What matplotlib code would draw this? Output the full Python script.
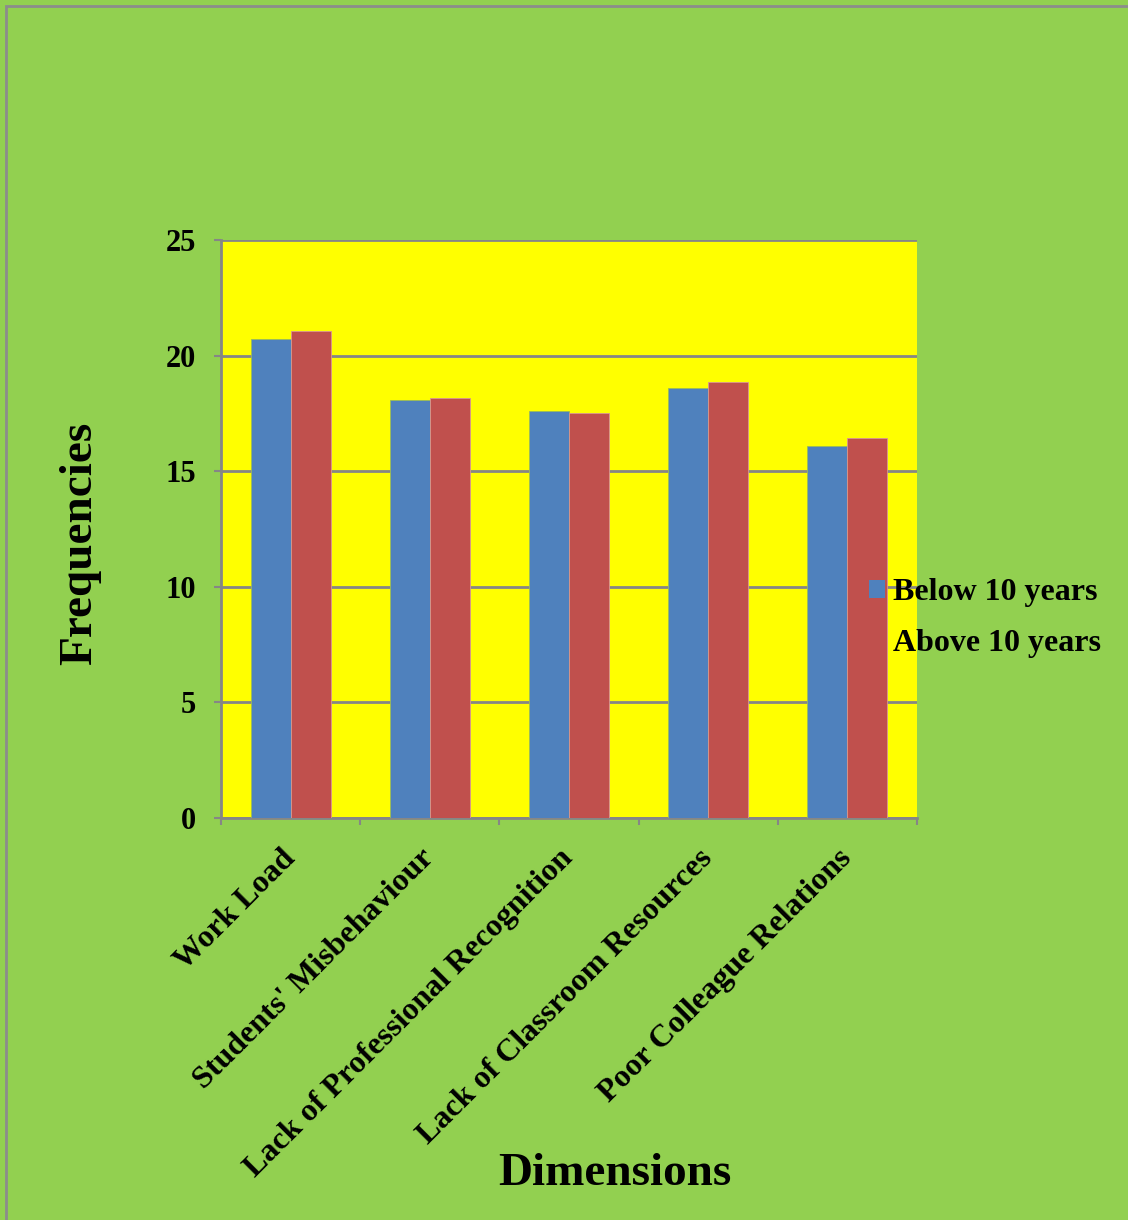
import numpy as np
import matplotlib.pyplot as plt
from matplotlib.patches import Rectangle

categories = ["Work Load", "Students' Misbehaviour", "Lack of Professional Recognition",
              "Lack of Classroom Resources", "Poor Colleague Relations"]
below_10 = [20.7, 18.1, 17.6, 18.6, 16.1]
above_10 = [21.05, 18.15, 17.5, 18.85, 16.45]
series_names = ["Below 10 years", "Above 10 years"]

plt.rcParams['font.family'] = ['Liberation Serif', 'DejaVu Serif']
plt.rcParams['font.weight'] = 'bold'

fig = plt.figure(figsize=(11.28, 12.2), dpi=100)
fig.patch.set_facecolor('#92d050')
# thin grey frame around the chart area
fig.patches.append(Rectangle((6 / 1128, -0.01), 1.02, 1 - 6 / 1220 + 0.01,
                             transform=fig.transFigure, fill=False,
                             edgecolor='#8c8c8c', linewidth=2))

ax = fig.add_axes([221 / 1128, 1 - 818 / 1220, 696 / 1128, 578 / 1220])
ax.set_facecolor('#ffff00')

x = np.arange(len(categories)) + 0.5
w = 0.288
ax.bar(x - w / 2, below_10, w, color='#4f81bd', edgecolor='#9bbb59', linewidth=0.6,
       label=series_names[0], zorder=3)
ax.bar(x + w / 2, above_10, w, color='#c0504d', edgecolor='#d99694', linewidth=0.6,
       label=series_names[1], zorder=3)

ax.set_xlim(0, len(categories))
ax.set_ylim(0, 25)
ax.set_yticks(range(0, 26, 5))
ax.yaxis.grid(True, color='#868686', linewidth=2)
ax.set_axisbelow(True)

ax.set_xticks(np.arange(len(categories) + 1))
ax.set_xticklabels([])
for xi, name in zip(x, categories):
    ax.text(xi, -1.55, name, rotation=45, rotation_mode='anchor', ha='right', va='center',
            fontsize=23, fontweight='bold')

for side in ['top', 'right']:
    ax.spines[side].set_visible(False)
for side in ['left', 'bottom']:
    ax.spines[side].set_color('#868686')
    ax.spines[side].set_linewidth(2)
ax.tick_params(axis='both', color='#868686', width=1.5, length=5)
ax.tick_params(axis='y', labelsize=22, pad=13)

fig.text(80 / 1128, 1 - 543 / 1220, 'Frequencies', rotation=90, ha='center', va='center',
         fontsize=34, fontweight='bold')
fig.text(615 / 1128, 1 - 1174 / 1220, 'Dimensions', ha='center', va='center',
         fontsize=34, fontweight='bold')

leg = fig.legend(loc='upper left', bbox_to_anchor=(869 / 1128, 1 - 578 / 1220),
                 frameon=False, fontsize=23, handlelength=0.5, handleheight=0.5,
                 handletextpad=0.25, labelspacing=0.68, borderpad=0, borderaxespad=0)
for h in leg.legend_handles:
    h.set_edgecolor('none')

fig.savefig('out.png', dpi=100, facecolor=fig.get_facecolor())
